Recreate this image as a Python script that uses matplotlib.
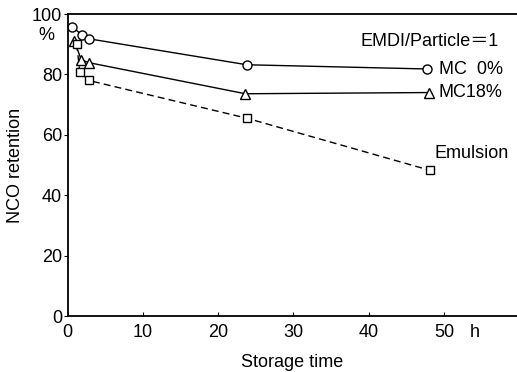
import matplotlib
matplotlib.use("Agg")
from matplotlib import pyplot as plt

plt.rcParams['font.family'] = ['Liberation Sans', 'DejaVu Sans']

# storage time (h) and NCO retention (%)
t_mc0 = [0.6, 1.9, 2.8, 23.8, 47.8]
r_mc0 = [95.7, 93.1, 91.8, 83.2, 81.8]
t_mc18 = [0.9, 1.8, 2.8, 23.6, 48.0]
r_mc18 = [91.0, 84.8, 83.9, 73.6, 74.0]
t_emu = [1.2, 1.6, 2.8, 23.8, 48.2]
r_emu = [90.0, 80.9, 78.0, 65.5, 48.2]

xticks = [0, 10, 20, 30, 40, 50]
yticks = [0, 20, 40, 60, 80, 100]

fig = plt.figure(figsize=(5.17, 3.72), dpi=100)
ax = fig.add_axes([0.131, 0.1505, 0.869, 0.8118])

mk = dict(markerfacecolor='white', markeredgecolor='black', markeredgewidth=1.0, color='black', lw=1.0)
ax.plot(t_mc0, r_mc0, marker='o', markersize=6.5, linestyle='-', **mk)
ax.plot(t_mc18, r_mc18, marker='^', markersize=6.5, linestyle='-', **mk)
ax.plot(t_emu, r_emu, marker='s', markersize=6, linestyle=(0, (5, 3)), **mk)

ax.set_xlim(0, 59.7)
ax.set_ylim(0, 100)
ax.set_xticks(xticks)
ax.set_yticks(yticks)
ax.spines['right'].set_visible(False)
for s in ['left', 'bottom', 'top']:
    ax.spines[s].set_linewidth(1.3)
ax.tick_params(axis='x', direction='in', length=3, labelsize=13, pad=6)
ax.tick_params(axis='y', direction='out', length=3, labelsize=13, pad=1)

ax.set_xlabel('Storage time', fontsize=13, labelpad=9)
ax.set_ylabel('NCO retention', fontsize=13, labelpad=6)

ax.text(-2.8, 93, '%', fontsize=13, ha='center', va='center', clip_on=False)
ax.text(54.1, -5.5, 'h', fontsize=13, ha='center', va='center', clip_on=False)
ax.text(38.9, 91.0, 'EMDI/Particle＝1', fontsize=13, ha='left', va='center',
        family=['Liberation Sans', 'Noto Sans CJK JP'])
ax.text(49.3, 81.7, 'MC  0%', fontsize=13, ha='left', va='center')
ax.text(49.3, 74.0, 'MC18%', fontsize=13, ha='left', va='center')
ax.text(48.7, 53.8, 'Emulsion', fontsize=13, ha='left', va='center')

fig.savefig('out.png', dpi=100)
